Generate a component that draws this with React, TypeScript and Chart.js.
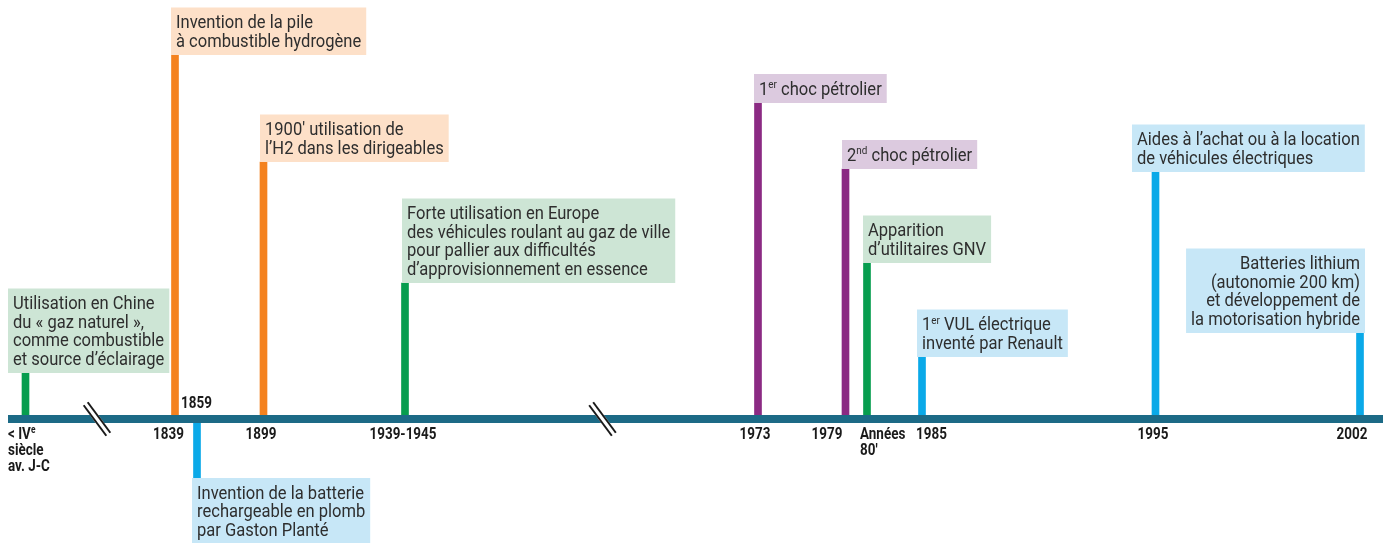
import React, { useEffect, useRef } from 'react';
import { Chart, registerables } from 'chart.js';

Chart.register(...registerables);

// ---- Data ----
const eventPositions = [25.5, 175, 197, 263.5, 405, 758, 845.5, 867, 922, 1155.5, 1360];
const eventLevels = [46, 364, -59, 257, 136, 316, 250, 156, 62, 247, 86];
const eventThemes = ['gaz', 'hydrogene', 'electrique', 'hydrogene', 'gaz', 'petrole', 'petrole', 'gaz', 'electrique', 'electrique', 'electrique'];
const eventTexts: string[][] = [
  ['Utilisation en Chine', 'du « gaz naturel »,', 'comme combustible', 'et source d’éclairage'],
  ['Invention de la pile', 'à combustible hydrogène'],
  ['Invention de la batterie', 'rechargeable en plomb', 'par Gaston Planté'],
  ["1900' utilisation de", 'l’H2 dans les dirigeables'],
  ['Forte utilisation en Europe', 'des véhicules roulant au gaz de ville', 'pour pallier aux difficultés', 'd’approvisionnement en essence'],
  ['1^{er} choc pétrolier'],
  ['2^{nd} choc pétrolier'],
  ['Apparition', 'd’utilitaires GNV'],
  ['1^{er} VUL électrique', 'inventé par Renault'],
  ['Aides à l’achat ou à la location', 'de véhicules électriques'],
  ['Batteries lithium', '(autonomie 200 km)', 'et développement de', 'la motorisation hybride'],
];

const tickLabels: string[][] = [
  ['< IV^{e}', 'siècle', 'av. J-C'],
  ['1839'],
  ['1859'],
  ['1899'],
  ['1939-1945'],
  ['1973'],
  ['1979'],
  ['Années', "80'"],
  ['1985'],
  ['1995'],
  ['2002'],
];
const tickPositions = [8, 168.5, 181, 261, 403, 755, 827, 860, 916, 1153, 1352];
const tickAligns = ['left', 'center', 'left', 'center', 'center', 'center', 'center', 'left', 'left', 'center', 'center'];
const tickAbove = [false, false, true, false, false, false, false, false, false, false, false];

const breakPositions = [97, 602.5];
const axisStart = 8;

// ---- Layout / style ----
const boxOffsets = [-17.5, -4, -5, -3.5, -3, -4, -3.5, -4, -5, -23.5, 5];
const boxAligns = ['left', 'left', 'left', 'left', 'left', 'left', 'left', 'left', 'left', 'left', 'right'];

const themeStyles: Record<string, { stem: string; box: string }> = {
  gaz: { stem: '#079d4f', box: '#cde5d5' },
  hydrogene: { stem: '#f4821f', box: '#fde0c8' },
  electrique: { stem: '#0aa9e8', box: '#c7e7f7' },
  petrole: { stem: '#8b2a83', box: '#dccadf' },
};

const AXIS_COLOR = '#1c6a86';
const TEXT_COLOR = '#2e2e2e';
const TICK_COLOR = '#1a1a1a';
const BOX_FONT = '17.5px Roboto';
const BOX_SUP_FONT = '10.5px Roboto';
const BOX_SX = 0.945;
const TICK_FONT = 'bold 16px Roboto';
const TICK_SUP_FONT = 'bold 10px Roboto';
const TICK_SX = 0.84;
const LINE_H = 18.5;
const PAD_V = 10.5;
const PAD_L = 5;
const PAD_R = 5;

type Part = { t: string; sup: boolean };

function parseRich(s: string): Part[] {
  const parts: Part[] = [];
  const re = /\^\{([^}]*)\}/g;
  let last = 0;
  let m: RegExpExecArray | null;
  while ((m = re.exec(s))) {
    if (m.index > last) parts.push({ t: s.slice(last, m.index), sup: false });
    parts.push({ t: m[1], sup: true });
    last = re.lastIndex;
  }
  if (last < s.length) parts.push({ t: s.slice(last), sup: false });
  return parts;
}

function richWidth(ctx: CanvasRenderingContext2D, parts: Part[], font: string, supFont: string, sx: number) {
  let w = 0;
  for (const p of parts) {
    ctx.font = p.sup ? supFont : font;
    w += ctx.measureText(p.t).width;
  }
  return w * sx;
}

function drawRich(
  ctx: CanvasRenderingContext2D,
  parts: Part[],
  x: number,
  y: number,
  align: string,
  font: string,
  supFont: string,
  sx: number,
  rise: number,
  color: string
) {
  const w = richWidth(ctx, parts, font, supFont, sx);
  const start = align === 'left' ? x : align === 'right' ? x - w : x - w / 2;
  ctx.save();
  ctx.translate(start, y);
  ctx.scale(sx, 1);
  ctx.textAlign = 'left';
  ctx.textBaseline = 'alphabetic';
  ctx.fillStyle = color;
  let cx = 0;
  for (const p of parts) {
    ctx.font = p.sup ? supFont : font;
    ctx.fillText(p.t, cx, p.sup ? -rise : 0);
    cx += ctx.measureText(p.t).width;
  }
  ctx.restore();
}

const timelinePlugin = {
  id: 'timelineDecor',
  afterDatasetsDraw(chart: any) {
    const ctx: CanvasRenderingContext2D = chart.ctx;
    const xs = chart.scales.x;
    const ys = chart.scales.y;

    // axis line
    const axTop = ys.getPixelForValue(4);
    const axBot = ys.getPixelForValue(-4);
    const axL = xs.getPixelForValue(axisStart);
    ctx.save();
    ctx.fillStyle = AXIS_COLOR;
    ctx.fillRect(axL, axTop, chart.width - axL, axBot - axTop);
    ctx.restore();

    // break marks
    for (const bp of breakPositions) {
      const cx = xs.getPixelForValue(bp);
      const cy = (axTop + axBot) / 2;
      ctx.save();
      ctx.translate(cx, cy);
      ctx.rotate(Math.atan2(31, 23));
      const len = 38;
      ctx.fillStyle = '#ffffff';
      ctx.fillRect(-len / 2, -3.5, len, 7);
      ctx.fillStyle = '#1a1a1a';
      ctx.fillRect(-len / 2, -3.5, len, 2);
      ctx.fillRect(-len / 2, 1.5, len, 2);
      ctx.restore();
    }

    // boxes
    eventTexts.forEach((lines, i) => {
      const style = themeStyles[eventThemes[i]];
      const parts = lines.map(parseRich);
      const maxW = Math.max(...parts.map((p) => richWidth(ctx, p, BOX_FONT, BOX_SUP_FONT, BOX_SX)));
      const w = maxW + PAD_L + PAD_R;
      const h = lines.length * LINE_H + PAD_V;
      const stemX = xs.getPixelForValue(eventPositions[i]);
      const tipY = ys.getPixelForValue(eventLevels[i]);
      const top = eventLevels[i] > 0 ? tipY - h : tipY;
      const left = boxAligns[i] === 'left' ? stemX + boxOffsets[i] : stemX + boxOffsets[i] - w;
      ctx.save();
      ctx.fillStyle = style.box;
      ctx.fillRect(left, top, w, h);
      ctx.restore();
      const lastBase = top + h - 8.5;
      parts.forEach((p, j) => {
        const by = lastBase - (lines.length - 1 - j) * LINE_H;
        const tx = boxAligns[i] === 'left' ? left + PAD_L : left + w - PAD_R;
        drawRich(ctx, p, tx, by, boxAligns[i], BOX_FONT, BOX_SUP_FONT, BOX_SX, 6.5, TEXT_COLOR);
      });
    });

    // tick labels
    tickLabels.forEach((lines, i) => {
      const x = xs.getPixelForValue(tickPositions[i]);
      lines.forEach((ln, j) => {
        const y = tickAbove[i] ? axTop - 7 : axBot + 16 + j * 16;
        drawRich(ctx, parseRich(ln), x, y, tickAligns[i], TICK_FONT, TICK_SUP_FONT, TICK_SX, 6, TICK_COLOR);
      });
    });
  },
};

export default function App() {
  const canvasRef = useRef<HTMLCanvasElement | null>(null);

  useEffect(() => {
    document.body.style.margin = '0';
    const canvas = canvasRef.current;
    if (!canvas) return;
    const chart = new Chart(canvas, {
      type: 'bar',
      data: {
        datasets: [
          {
            data: eventPositions.map((x, i) => ({ x, y: [0, eventLevels[i]] })) as any,
            backgroundColor: eventThemes.map((t) => themeStyles[t].stem),
            borderWidth: 0,
            barThickness: 7,
          },
        ],
      },
      options: {
        responsive: false,
        animation: false,
        devicePixelRatio: 1,
        layout: { padding: 0 },
        scales: {
          x: { type: 'linear', min: 0, max: 1383, offset: false, display: false, grid: { offset: false } },
          y: { type: 'linear', min: -124, max: 419, display: false },
        },
        plugins: { legend: { display: false }, tooltip: { enabled: false } },
      },
      plugins: [timelinePlugin],
    });
    return () => chart.destroy();
  }, []);

  return (
    <div style={{ width: 1383, height: 543 }}>
      <canvas ref={canvasRef} width={1383} height={543} style={{ display: 'block' }} />
    </div>
  );
}
